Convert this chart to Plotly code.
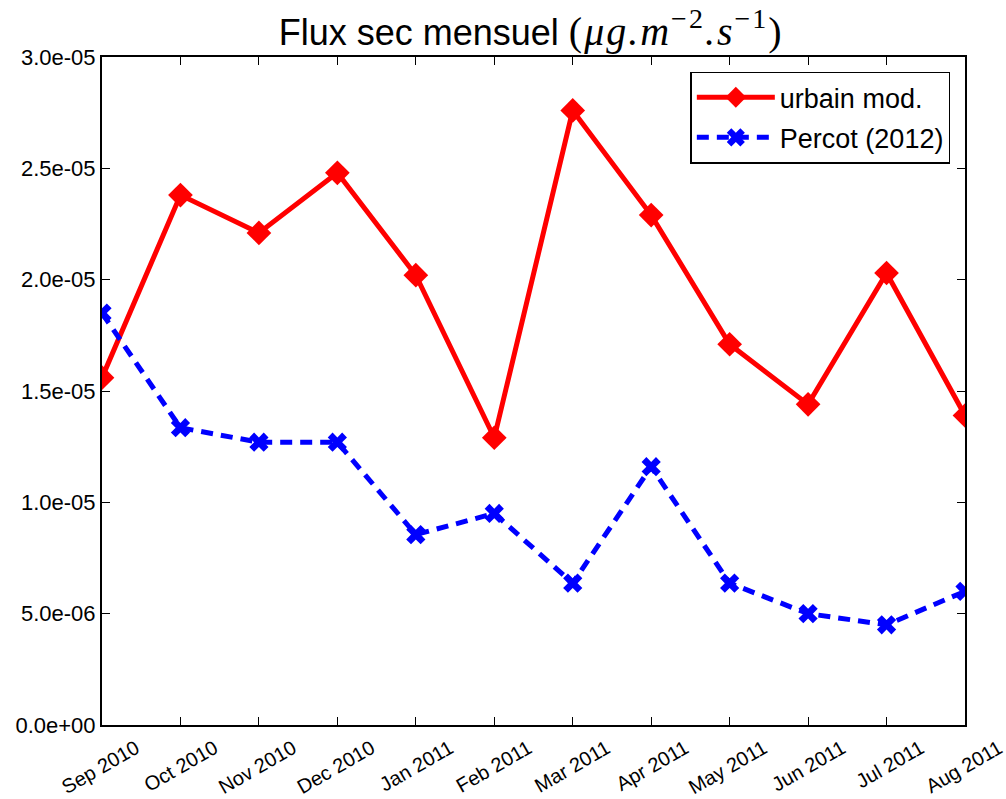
import plotly.graph_objects as go

months = ["Sep 2010", "Oct 2010", "Nov 2010", "Dec 2010", "Jan 2011", "Feb 2011",
          "Mar 2011", "Apr 2011", "May 2011", "Jun 2011", "Jul 2011", "Aug 2011"]
urbain_mod = [1.56e-5, 2.38e-5, 2.21e-5, 2.48e-5, 2.02e-5, 1.29e-5,
              2.76e-5, 2.29e-5, 1.71e-5, 1.44e-5, 2.03e-5, 1.39e-5]
percot_2012 = [1.85e-5, 1.335e-5, 1.27e-5, 1.27e-5, 0.855e-5, 0.95e-5,
               0.637e-5, 1.16e-5, 0.637e-5, 0.50e-5, 0.45e-5, 0.60e-5]
y_ticks = [0, 5e-6, 1e-5, 1.5e-5, 2e-5, 2.5e-5, 3e-5]
y_tick_labels = ["0.0e+00", "5.0e-06", "1.0e-05", "1.5e-05", "2.0e-05", "2.5e-05", "3.0e-05"]

x = list(range(len(months)))

fig = go.Figure()
fig.add_trace(go.Scatter(
    x=x, y=urbain_mod, name="urbain mod.", mode="lines+markers",
    line=dict(color="#ff0000", width=5),
    marker=dict(symbol="diamond", size=19, color="#ff0000"),
    legendgroup="a",
))
fig.add_trace(go.Scatter(
    x=x, y=percot_2012, name="Percot (2012)", mode="lines+markers",
    line=dict(color="#0000ff", width=5, dash="12px,8px"),
    marker=dict(symbol="x", size=17, color="#0000ff"),
    legendgroup="b",
))

math = ('<span style="font-family:\'Liberation Serif\', serif;font-size:40px;'
        'letter-spacing:2px">(<i>μg.m</i>'
        '<sup>−2</sup><i>.s</i><sup>−1</sup>)</span>')

fig.update_layout(
    width=1006, height=799,
    margin=dict(l=102, r=41, t=57, b=74, autoexpand=False),
    paper_bgcolor="white", plot_bgcolor="white",
    font=dict(family="Liberation Sans, Arial, sans-serif", color="black"),
    title=dict(
        text="Flux sec mensuel " + math,
        x=0.528, xanchor="center", yref="container", y=1 - 32 / 799, yanchor="middle",
        font=dict(size=36, family="Liberation Sans, Arial, sans-serif"),
    ),
    legend=dict(
        x=0.983, y=0.978, xanchor="right", yanchor="top",
        bordercolor="black", borderwidth=1.5, bgcolor="white",
        font=dict(size=27), itemwidth=78, tracegroupgap=2,
    ),
    showlegend=True,
)
fig.update_xaxes(
    range=[0, 11], tickvals=x, ticktext=months, tickangle=-30,
    ticks="inside", ticklen=8, tickwidth=1, tickcolor="black",
    showline=True, linecolor="black", linewidth=2, mirror="ticks",
    showgrid=False, zeroline=False, tickfont=dict(size=20),
    ticklabelshift=34, ticklabelstandoff=2, ticklabeloverflow="allow",
    automargin=False,
)
fig.update_yaxes(
    range=[0, 3e-5], tickvals=y_ticks, ticktext=y_tick_labels,
    ticks="inside", ticklen=8, tickwidth=1, tickcolor="black",
    showline=True, linecolor="black", linewidth=2, mirror="ticks",
    showgrid=False, zeroline=False, tickfont=dict(size=22),
    automargin=False,
)

fig.write_html("out.html")
